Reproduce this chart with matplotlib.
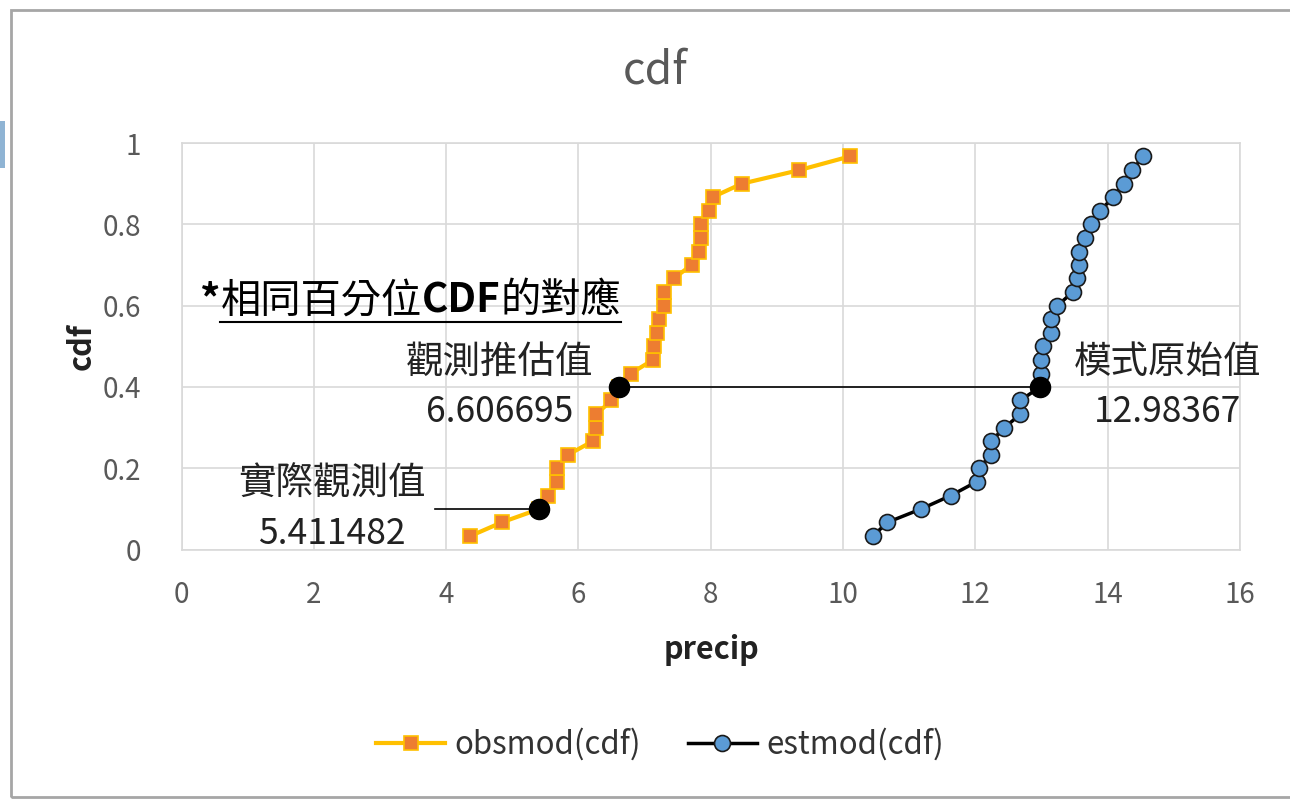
import matplotlib
matplotlib.use('Agg')
import matplotlib.pyplot as plt
from matplotlib.patches import Rectangle

plt.rcParams['font.family'] = ['Noto Sans CJK TC', 'DejaVu Sans']

# cumulative probability shared by both series
cdf = [0.033, 0.067, 0.100, 0.133, 0.167, 0.200, 0.233, 0.267, 0.300, 0.333,
       0.367, 0.400, 0.433, 0.467, 0.500, 0.533, 0.567, 0.600, 0.633, 0.667,
       0.700, 0.733, 0.767, 0.800, 0.833, 0.867, 0.900, 0.933, 0.967]

obs_precip = [4.36, 4.84, 5.41, 5.54, 5.67, 5.68, 5.84, 6.22, 6.27, 6.27,
              6.50, 6.61, 6.79, 7.13, 7.15, 7.19, 7.22, 7.29, 7.29, 7.44,
              7.71, 7.83, 7.85, 7.86, 7.97, 8.03, 8.47, 9.33, 10.10]

est_precip = [10.45, 10.67, 11.18, 11.63, 12.02, 12.05, 12.24, 12.24, 12.44, 12.68,
              12.68, 12.98, 12.99, 12.99, 13.02, 13.14, 13.14, 13.24, 13.47, 13.53,
              13.56, 13.56, 13.66, 13.75, 13.89, 14.08, 14.24, 14.37, 14.54]

# highlighted points: (precip, cdf, label, number text)
hl_precip = [5.411482, 6.606695, 12.98367]
hl_cdf = [0.1, 0.4, 0.4]
hl_label = ['實際觀測值', '觀測推估值', '模式原始值']
hl_value = ['5.411482', '6.606695', '12.98367']
hl_offset = [(-208, 0), (-119, 0), (127, 0)]   # label offsets in pixels
leader_start = 3.83

x_ticks = [0, 2, 4, 6, 8, 10, 12, 14, 16]
y_ticks = [0, 0.2, 0.4, 0.6, 0.8, 1]
y_tick_labels = ['0', '0.2', '0.4', '0.6', '0.8', '1']

fig = plt.figure(figsize=(12.9, 7.99), dpi=100)
ax = fig.add_axes([0.1407, 0.3121, 0.8205, 0.5089])

ax.plot(obs_precip, cdf, color='#FFC000', lw=3, marker='s', ms=10.5,
        mfc='#ED7D31', mec='#FFC000', mew=1.2, label='obsmod(cdf)', zorder=3)
ax.plot(est_precip, cdf, color='black', lw=2.5, marker='o', ms=11.5,
        mfc='#5B9BD5', mec='#1a1a1a', mew=1.2, label='estmod(cdf)', zorder=3)

# leader lines between matched percentiles
ax.plot([leader_start, hl_precip[0]], [hl_cdf[0], hl_cdf[0]], color='black', lw=1.2, zorder=2)
ax.plot([hl_precip[1], hl_precip[2]], [hl_cdf[1], hl_cdf[2]], color='black', lw=1.2, zorder=2)
ax.plot(hl_precip, hl_cdf, ls='none', marker='o', ms=14.5, color='black', zorder=5)

for px, py, lab, val, (dx, dy) in zip(hl_precip, hl_cdf, hl_label, hl_value, hl_offset):
    ax.annotate(lab, xy=(px, py), xytext=(dx, dy + 25), textcoords='offset pixels',
                ha='center', va='center', fontsize=27, color='#222222')
    ax.annotate(val, xy=(px, py), xytext=(dx, dy - 25), textcoords='offset pixels',
                ha='center', va='center', fontsize=25.5, color='#222222')

ax.set_xlim(0, 16)
ax.set_ylim(0, 1)
ax.set_xticks(x_ticks)
ax.set_yticks(y_ticks)
ax.set_yticklabels(y_tick_labels)
ax.grid(True, color='#D9D9D9', lw=1.2)
ax.set_axisbelow(True)
for sp in ax.spines.values():
    sp.set_color('#D9D9D9')
    sp.set_linewidth(1.2)
ax.tick_params(length=0, labelsize=20, colors='#595959')
ax.tick_params(axis='y', pad=29)
ax.tick_params(axis='x', pad=22)

ax.set_xlabel('precip', fontsize=22, fontweight='bold', color='#222222', va='center')
ax.xaxis.set_label_coords(0.501, -0.247)
ax.set_ylabel('cdf', fontsize=22, fontweight='bold', color='#222222', va='center')
ax.yaxis.set_label_coords(-0.094, 0.5)

fig.text(0.508, 0.912, 'cdf', fontsize=32, color='#595959', ha='center', va='center')

# heading with mixed weights, underlined after the asterisk
renderer = fig.canvas.get_renderer()
heading_runs = [('*', 'bold'), ('相同百分位', 'normal'), ('CDF', 'bold'), ('的對應', 'normal')]
hx, hy = 0.28, 0.584
inv = ax.transData.inverted()
under_start = None
for s, w in heading_runs:
    t = ax.text(hx, hy, s, fontsize=29, fontweight=w, color='black', ha='left', va='baseline')
    bb = t.get_window_extent(renderer)
    if under_start is None and s != '*':
        under_start = inv.transform((bb.x0, bb.y0))[0]
    hx = inv.transform((bb.x1, bb.y0))[0]
ax.plot([under_start, hx], [0.561, 0.561], color='black', lw=1.5, clip_on=False)

leg = ax.legend(loc='center', bbox_to_anchor=(0.5116, 0.068), bbox_transform=fig.transFigure,
                ncol=2, frameon=False, fontsize=22.5, handlelength=2.2, handletextpad=0.3,
                columnspacing=1.5)
for txt in leg.get_texts():
    txt.set_color('#333333')

# chart frame
fig.add_artist(Rectangle((11 / 1290, 2 / 799), 1.1, 787 / 799, transform=fig.transFigure,
                         fill=False, ec='#A6A6A6', lw=2))
fig.add_artist(Rectangle((0, (799 - 168) / 799), 5 / 1290, 47 / 799, transform=fig.transFigure,
                         fc='#8FB4D4', ec='none'))

fig.savefig('out.png', dpi=100)
